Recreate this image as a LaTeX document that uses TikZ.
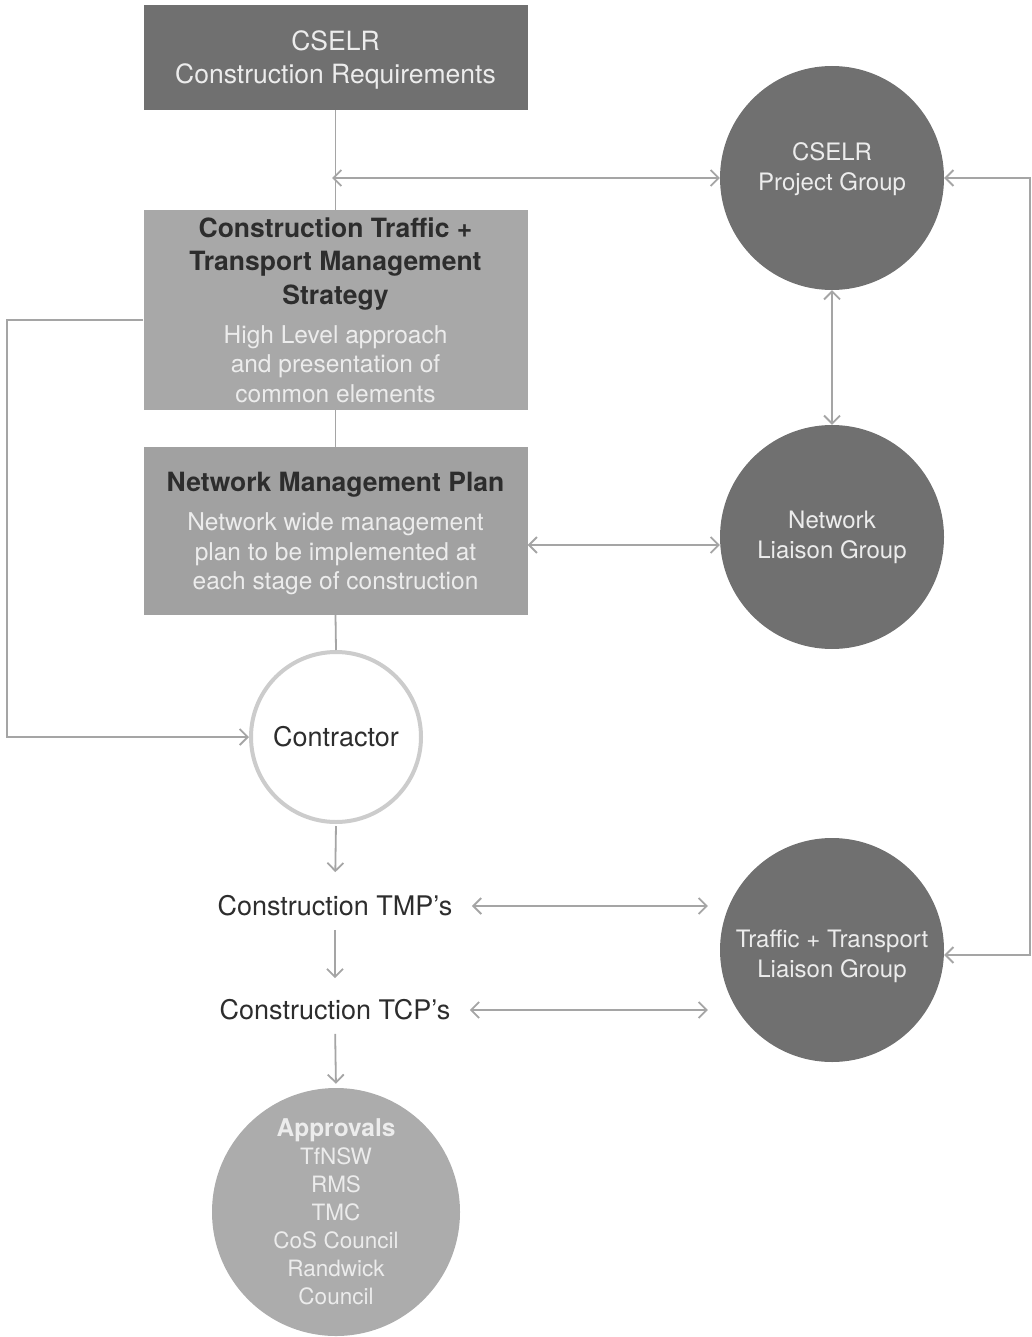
\documentclass[tikz,border=0pt]{standalone}
\usepackage{fontspec}
\setmainfont{TeX Gyre Heros}
\usepackage{tikz}
\usetikzlibrary{arrows.meta, positioning, calc}
\definecolor{darkgrey}{RGB}{112,112,112}
\definecolor{midgrey}{RGB}{168,168,168}
\definecolor{nmpgrey}{RGB}{161,161,161}
\definecolor{apprgrey}{RGB}{172,172,172}
\definecolor{linegrey}{RGB}{165,165,165}
\definecolor{ringgrey}{RGB}{204,204,204}
\definecolor{titlegrey}{RGB}{45,45,45}
\definecolor{softwhite}{RGB}{236,236,236}

\begin{document}
\begin{tikzpicture}[
    x=1pt, y=-1pt,
    >={Straight Barb[length=8pt, width=16pt]},
    conn/.style={draw=linegrey, line width=1.8pt},
    box/.style={rectangle, minimum width=384pt, inner sep=0pt},
    group/.style={circle, fill=darkgrey, minimum size=224pt, inner sep=0pt,
        text=softwhite, align=center, font=\fontsize{24}{30}\selectfont},
    title/.style={align=center, text=titlegrey, font=\fontsize{26.5}{33.5}\selectfont\bfseries},
    body/.style={align=center, text=softwhite, font=\fontsize{24.5}{29.5}\selectfont},
    label/.style={text=titlegrey, font=\fontsize{27}{33}\selectfont},
]
    \useasboundingbox (0,0) rectangle (1032,1337);

    \node[box, fill=darkgrey, minimum height=105pt] (req) at (335.5,57.5) {};
    \node[align=center, text=softwhite, font=\fontsize{26.5}{33}\selectfont] (reqtext) at (335.5,60)
        {CSELR\\Construction Requirements};

    \node[box, fill=midgrey, minimum height=200pt] (ctmp) at (335.5,310) {};
    \node[title] (ctmptitle) at (335.5,264) {Construction Traffic +\\Transport Management\\Strategy};
    \node[body] (ctmpbody) at (335.5,364) {High Level approach\\and presentation of\\common elements};

    \node[box, fill=nmpgrey, minimum height=168pt] (nmp) at (335.5,531) {};
    \node[title] (nmptitle) at (335.5,485) {Network Management Plan};
    \node[body] (nmpbody) at (335.5,554) {Network wide management\\plan to be implemented at\\each stage of construction};

    \node[circle, draw=ringgrey, line width=4pt, fill=white, minimum size=170pt,
        inner sep=0pt, label] (con) at (336,737) {Contractor};

    \node[label] (tmp) at (335,906) {Construction TMP's};
    \node[label] (tcp) at (335,1010) {Construction TCP's};

    \node[circle, fill=apprgrey, minimum size=248pt, inner sep=0pt, align=center,
        text=softwhite, font=\fontsize{22.5}{28}\selectfont] (appr) at (336,1212)
        {{\fontsize{24.5}{28}\selectfont\bfseries Approvals}\\TfNSW\\RMS\\TMC\\CoS Council\\Randwick\\Council};

    \node[group] (pg) at (832,178) {};
    \node[group, fill=none, minimum size=0pt] (pgtext) at (832,169) {CSELR\\Project Group};
    \node[group] (nlg) at (832,537) {Network\\Liaison Group};
    \node[group] (tlg) at (832,950) {};
    \node[group, fill=none, minimum size=0pt] (tlgtext) at (832,956) {Traffic + Transport\\Liaison Group};

    \coordinate (jn) at (336,178);
    \coordinate (rt) at (1030,178);

    \draw[conn] (req.south) -- (ctmp.north);
    \draw[conn] (ctmp.south) -- (nmp.north);
    \draw[conn] (nmp.south) -- (con.north);
    \draw[conn, <->, shorten <=-4pt] (jn) -- (pg.west);
    \draw[conn, <->] (pg.south) -- (nlg.north);
    \draw[conn, <->] ([yshift=-8pt]nlg.west -| nmp.east) -- ([yshift=-8pt]nlg.west);
    \draw[conn, ->] ([yshift=-10pt]ctmp.west) -- ++(-136,0) |- (con.west);
    \draw[conn, ->, shorten <=2pt, shorten >=20pt] (con.south) -- (tmp.north);
    \draw[conn, ->, shorten <=10pt, shorten >=18pt] (tmp.south) -- (tcp.north);
    \draw[conn, ->, shorten <=10pt, shorten >=4pt] (tcp.south) -- (appr.north);
    \draw[conn, <->, shorten <=16pt, shorten >=12pt] (tmp.east) -- (tmp.east -| tlg.west);
    \draw[conn, <->, shorten <=16pt, shorten >=12pt] (tcp.east) -- (tcp.east -| tlg.west);
    \draw[conn, <->] (pg.east) -- (rt) |- ([yshift=-5pt]tlg.east);
\end{tikzpicture}
\end{document}
